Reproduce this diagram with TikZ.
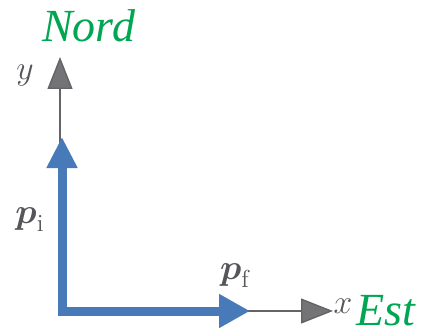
\documentclass[tikz,border=0pt]{standalone}
\usepackage{amsmath}
\usepackage{fontspec}
\newfontfamily\lblfont{Liberation Serif}
\usetikzlibrary{arrows.meta}
\definecolor{axblue}{RGB}{72,122,186}
\definecolor{axgreen}{RGB}{0,166,81}
\definecolor{axgray}{RGB}{100,100,104}
\definecolor{labgray}{RGB}{85,85,90}
\tikzset{
  bluevec/.style={draw=axblue, line width=9pt, line join=miter},
  grayaxis/.style={draw=axgray, line width=1.4pt,
    -{Triangle[length=32pt,width=25pt,fill=axgray!90]}},
  dirlabel/.style={text=axgreen, font=\lblfont\itshape\fontsize{46}{46}\selectfont, inner sep=0pt, anchor=base west},
  axlabel/.style={text=labgray, font=\fontsize{17.28}{20}\selectfont, inner sep=0pt, scale=1.95, transform shape},
  veclabel/.style={text=labgray, font=\fontsize{17.28}{20}\selectfont, inner sep=0pt, scale=2.05, transform shape}
}
\begin{document}
\begin{tikzpicture}[x=1pt,y=-1pt]
\useasboundingbox (0,0) rectangle (422,331);
\coordinate (O) at (62,311);
\coordinate (Ytip) at (60,57);
\coordinate (Xtip) at (333,311);
\coordinate (Pi) at (62,137);
\coordinate (Pf) at (250,311);
% gray axes
\draw[grayaxis] (60,311) -- (Ytip);
\draw[grayaxis] (O) -- (Xtip);
% blue vectors
\draw[bluevec, {Triangle[length=31pt,width=29pt,fill=axblue]}-{Triangle[length=31pt,width=32pt,fill=axblue]}] (Pi) -- (O) -- (Pf);
% labels
\node[axlabel] (ylab) at (25,76) {$y$};
\node[axlabel] (xlab) at (343,306) {$x$};
\node[veclabel] (pilab) at (30,220) {$\boldsymbol{p}_{\mathrm{i}}$};
\node[veclabel] (pflab) at (235,276) {$\boldsymbol{p}_{\mathrm{f}}$};
\node[dirlabel] (nord) at (42,42) {Nord};
\node[dirlabel] (est) at (356,325) {Est};
\end{tikzpicture}
\end{document}
